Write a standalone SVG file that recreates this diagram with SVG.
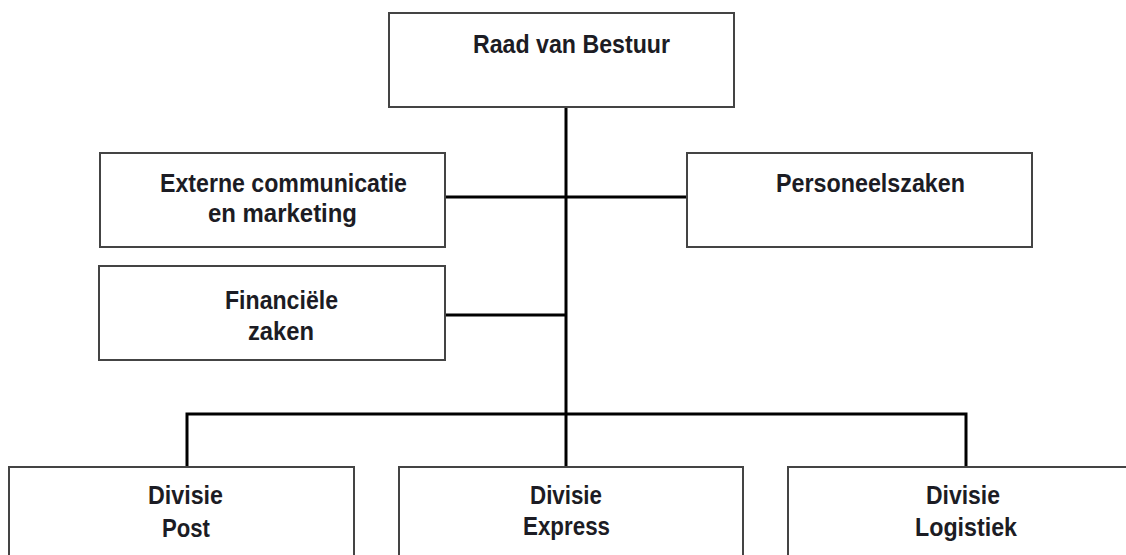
<svg xmlns="http://www.w3.org/2000/svg" width="1126" height="555" viewBox="0 0 1126 555">
<style>
.box{fill:#fff;stroke:#444;stroke-width:2}
.t{font-family:"Liberation Sans",Arial,sans-serif;font-weight:bold;font-size:25px;fill:#1c1c24;text-anchor:middle}
.c{stroke:#000;stroke-width:3;fill:none}
</style>
<rect width="1126" height="555" fill="#fff"/>
<g id="connectors">
<line class="c" x1="566" y1="107" x2="566" y2="414"/>
<line class="c" x1="445" y1="197" x2="688" y2="197"/>
<line class="c" x1="445" y1="315" x2="566" y2="315"/>
<polyline class="c" points="187,467 187,414 966,414 966,467"/>
<line class="c" x1="566" y1="414" x2="566" y2="467"/>
</g>
<g id="raad">
<rect class="box" x="389" y="13" width="345" height="94"/>
<text class="t" x="571.5" y="53" textLength="197" lengthAdjust="spacingAndGlyphs">Raad van Bestuur</text>
</g>
<g id="externe">
<rect class="box" x="100" y="153" width="345" height="94"/>
<text class="t" x="283.5" y="192" textLength="247" lengthAdjust="spacingAndGlyphs">Externe communicatie</text>
<text class="t" x="282.5" y="222" textLength="149" lengthAdjust="spacingAndGlyphs">en marketing</text>
</g>
<g id="personeelszaken">
<rect class="box" x="687" y="153" width="345" height="94"/>
<text class="t" x="870.5" y="192" textLength="189" lengthAdjust="spacingAndGlyphs">Personeelszaken</text>
</g>
<g id="financiele">
<rect class="box" x="99" y="266" width="346" height="94"/>
<text class="t" x="281.5" y="309" textLength="113" lengthAdjust="spacingAndGlyphs">Financiële</text>
<text class="t" x="281" y="340" textLength="66" lengthAdjust="spacingAndGlyphs">zaken</text>
</g>
<g id="post">
<rect class="box" x="9" y="467" width="345" height="100"/>
<text class="t" x="185.5" y="504" textLength="75" lengthAdjust="spacingAndGlyphs">Divisie</text>
<text class="t" x="186" y="537" textLength="48" lengthAdjust="spacingAndGlyphs">Post</text>
</g>
<g id="express">
<rect class="box" x="399" y="467" width="344" height="100"/>
<text class="t" x="566" y="504" textLength="72" lengthAdjust="spacingAndGlyphs">Divisie</text>
<text class="t" x="566.5" y="535" textLength="87" lengthAdjust="spacingAndGlyphs">Express</text>
</g>
<g id="logistiek">
<rect class="box" x="788" y="467" width="345" height="100"/>
<text class="t" x="963" y="504" textLength="74" lengthAdjust="spacingAndGlyphs">Divisie</text>
<text class="t" x="966" y="536" textLength="102" lengthAdjust="spacingAndGlyphs">Logistiek</text>
</g>
</svg>
